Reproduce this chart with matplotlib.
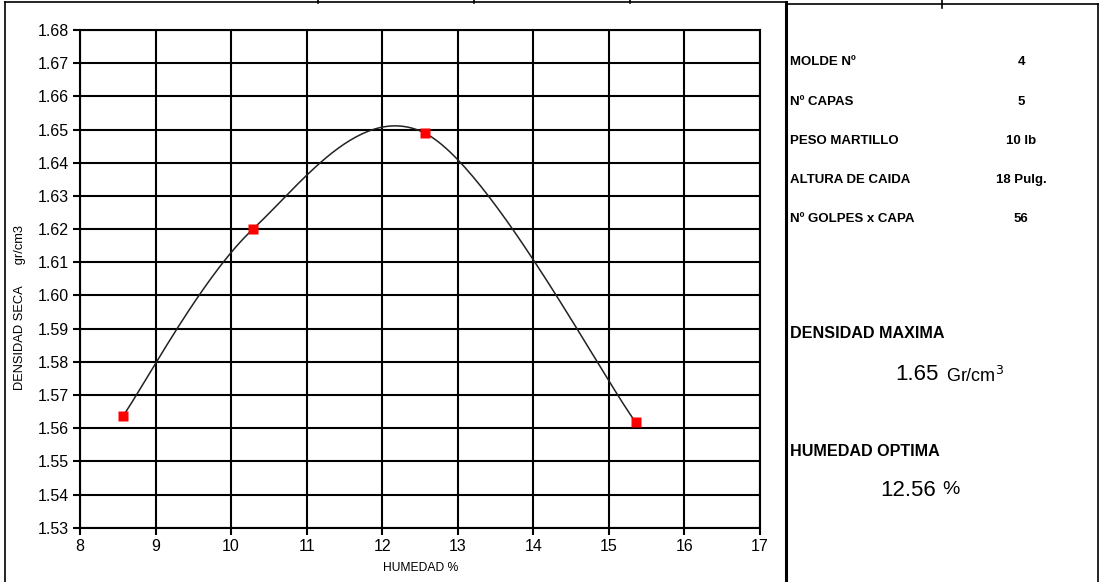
import numpy as np
import matplotlib.pyplot as plt
from matplotlib.lines import Line2D
from matplotlib import font_manager

# data
humedad = [8.57, 10.285, 12.566, 15.354]
densidad = [1.5637, 1.6199, 1.6489, 1.5618]

x_ticks = [8, 9, 10, 11, 12, 13, 14, 15, 16, 17]
y_ticks = [1.53, 1.54, 1.55, 1.56, 1.57, 1.58, 1.59, 1.60, 1.61, 1.62,
           1.63, 1.64, 1.65, 1.66, 1.67, 1.68]

info_labels = ["MOLDE Nº", "Nº CAPAS", "PESO MARTILLO", "ALTURA DE CAIDA", "Nº GOLPES x CAPA"]
info_values = ["4", "5", "10 lb", "18 Pulg.", "56"]
dens_max = "1.65"
hum_opt = "12.56"

names = {f.name for f in font_manager.fontManager.ttflist}
FONT = "Liberation Sans Narrow" if "Liberation Sans Narrow" in names else "Liberation Sans"
plt.rcParams['font.family'] = [FONT, 'DejaVu Sans']

W, H = 1102, 582


def px(x, y):
    return x / W, 1 - y / H


def smooth_curve(xs, ys, n=60):
    # excel style smoothed line: cubic bezier with catmull-rom control points
    P = np.column_stack([xs, ys])
    P = np.vstack([P[0], P, P[-1]])
    out = []
    for i in range(1, len(P) - 2):
        p0, p1, p2, p3 = P[i - 1], P[i], P[i + 1], P[i + 2]
        c1 = p1 + (p2 - p0) / 6
        c2 = p2 - (p3 - p1) / 6
        t = np.linspace(0, 1, n)[:, None]
        seg = (1 - t)**3 * p1 + 3 * (1 - t)**2 * t * c1 + 3 * (1 - t) * t**2 * c2 + t**3 * p2
        out.append(seg)
    out = np.vstack(out)
    return out[:, 0], out[:, 1]


fig = plt.figure(figsize=(W / 100, H / 100), dpi=100)
ax = fig.add_axes([80 / W, 1 - 527.7 / H, 680 / W, 497.7 / H])

sx, sy = smooth_curve(humedad, densidad)
ax.plot(sx, sy, color='#222222', lw=1.1, zorder=3)
ax.plot(humedad, densidad, 's', color='#ff0000', ms=6.5, mec='none', zorder=4)

ax.set_xlim(8, 17)
ax.set_ylim(1.53, 1.68)
ax.set_xticks(x_ticks)
ax.set_yticks(y_ticks)
ax.set_xticklabels([str(v) for v in x_ticks], fontsize=11.5)
ax.set_yticklabels(["%.2f" % v for v in y_ticks], fontsize=11.5)
ax.grid(True, color='black', lw=1.5)
ax.tick_params(direction='out', length=5, width=1.5, color='black', pad=3)
for s in ax.spines.values():
    s.set_linewidth(1.5)
    s.set_color('black')
ax.set_axisbelow(True)

fig.text(*px(421, 568), "HUMEDAD %", fontsize=8.7, ha='center', va='center')
fig.text(*px(20, 308), "DENSIDAD SECA      gr/cm3", fontsize=9.3, ha='center', va='center', rotation=90)

# spreadsheet borders
def hline(x0, x1, y, lw=1.2):
    fig.add_artist(Line2D([x0 / W, x1 / W], [1 - y / H, 1 - y / H], color='black', lw=lw))


def vline(x, y0, y1, lw=1.2):
    fig.add_artist(Line2D([x / W, x / W], [1 - y0 / H, 1 - y1 / H], color='black', lw=lw))


hline(5, 786, 2)
vline(5, 2, 582)
for xv in [318, 474, 630]:
    vline(xv, 0, 3)
hline(786, 1098, 4)
vline(786, 2, 582, lw=2.2)
vline(1098, 4, 582)
vline(942, 0, 8)

# right panel info
info_y = [62, 102, 141, 180, 219]
for lab, val, yy in zip(info_labels, info_values, info_y):
    fig.text(*px(790, yy), lab, fontsize=9.5, fontweight='bold', ha='left', va='center')
    fig.text(*px(1021, yy), val, fontsize=9.5, fontweight='bold', ha='center', va='center')

fig.text(*px(790, 334), "DENSIDAD MAXIMA", fontsize=11.6, fontweight='bold', ha='left', va='center')
fig.text(*px(939, 374), dens_max, fontsize=16, ha='right', va='center')
fig.text(*px(946, 376), "Gr/cm$^3$", fontsize=13, ha='left', va='center')
fig.text(*px(790, 452), "HUMEDAD OPTIMA", fontsize=11.6, fontweight='bold', ha='left', va='center')
fig.text(*px(936, 490), hum_opt, fontsize=16, ha='right', va='center')
fig.text(*px(942, 490), "%", fontsize=14, ha='left', va='center')

fig.savefig("out.png", dpi=100)
